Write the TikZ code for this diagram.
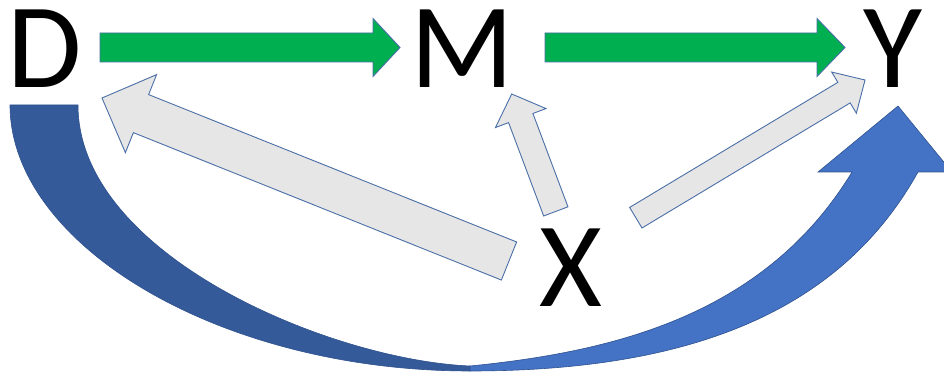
\documentclass[tikz,border=0pt]{standalone}
\usepackage{fontspec}
\setmainfont{Carlito}
\usetikzlibrary{calc}

\definecolor{arrowgreen}{HTML}{00B050}
\definecolor{arrowgray}{HTML}{E7E6E6}
\definecolor{edgeblue}{HTML}{4A6FA8}
\definecolor{curvefront}{HTML}{4472C4}
\definecolor{curveback}{HTML}{345A9A}
\definecolor{curveedge}{HTML}{2F528F}

% block arrow: #1 style, #2 tail, #3 tip, #4 shaft half width, #5 head half width, #6 head length
\newcommand{\blockarrow}[6]{%
  \coordinate (hb) at ($(#3)!#6!(#2)$);
  \path[#1] ($(#2)!#4!90:(#3)$) -- ($(hb)!#4!90:(#3)$) -- ($(hb)!#5!90:(#3)$)
    -- (#3) -- ($(hb)!#5!-90:(#3)$) -- ($(hb)!#4!-90:(#3)$) -- ($(#2)!#4!-90:(#3)$) -- cycle;
}

\begin{document}
\begin{tikzpicture}[x=1pt, y=-1pt,
  letter/.style={anchor=base, inner sep=0pt, text height=78pt, text depth=0pt,
    font=\fontsize{121}{121}\selectfont},
  greenarrow/.style={fill=arrowgreen, draw=edgeblue, line width=0.9pt, line join=miter},
  grayarrow/.style={fill=arrowgray, draw=edgeblue, line width=0.9pt, line join=miter},
  curveback part/.style={fill=curveback, draw=curveedge, line width=0.6pt},
  curvefront part/.style={fill=curvefront, draw=curveedge, line width=0.6pt}]
  \useasboundingbox (0,0) rectangle (944,374);

  % curved arrow from D round the bottom up to Y: back face, then front face with head
  \path[curveback part] (10,105) -- (78,105) .. controls (78,255) and (330,360) .. (470,366)
    -- (470,371) .. controls (220,371) and (10,245) .. (10,105) -- cycle;
  \path[curvefront part] (470,371) .. controls (690,371) and (840,312) .. (918,172)
    -- (952,172) -- (898,106) -- (818,172) -- (852,172)
    .. controls (764,317) and (610,352) .. (470,366) -- cycle;

  % variables
  \node[letter] (D) at (45,88) {D};
  \node[letter] (M) at (462.5,88) {M};
  \node[letter] (Y) at (892.5,88) {Y};
  \node[letter] (X) at (570.5,306) {X};

  % arrow end points
  \coordinate (dm-tail) at (100,47.5);
  \coordinate (dm-tip)  at (400,47.5);
  \coordinate (my-tail) at (545,47.5);
  \coordinate (my-tip)  at (845,47.5);
  \coordinate (xd-tail) at (509,261);
  \coordinate (xd-tip)  at (102,98);
  \coordinate (xm-tail) at (555.8,211.4);
  \coordinate (xm-tip)  at (511.7,94);
  \coordinate (xy-tail) at (635.8,217.7);
  \coordinate (xy-tip)  at (865,80);

  % causal paths D -> M -> Y
  \blockarrow{greenarrow}{dm-tail}{dm-tip}{14.5pt}{29pt}{27pt}
  \blockarrow{greenarrow}{my-tail}{my-tip}{14.5pt}{29pt}{28pt}

  % confounder X
  \blockarrow{grayarrow}{xd-tail}{xd-tip}{20.5pt}{42pt}{42pt}
  \blockarrow{grayarrow}{xm-tail}{xm-tip}{13pt}{27pt}{25.7pt}
  \blockarrow{grayarrow}{xy-tail}{xy-tip}{12pt}{24pt}{24.5pt}
\end{tikzpicture}
\end{document}
